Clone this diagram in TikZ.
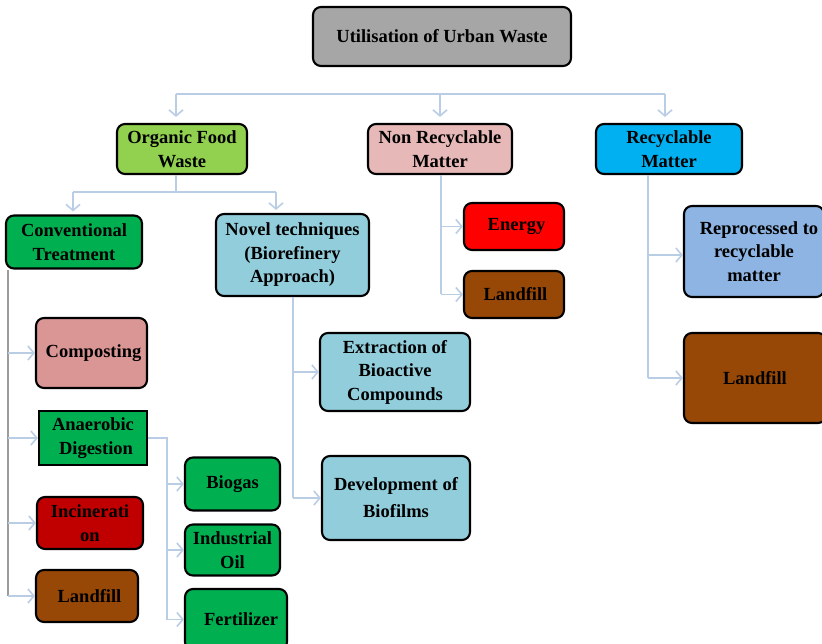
\documentclass[tikz,border=0pt]{standalone}
\usepackage{fontspec}
\setmainfont{Liberation Serif}
\usetikzlibrary{arrows.meta}

\definecolor{titlegray}{HTML}{A6A6A6}
\definecolor{leafgreen}{HTML}{92D050}
\definecolor{rosepink}{HTML}{E6B8B7}
\definecolor{skyblue}{HTML}{00B0F0}
\definecolor{darkgreen}{HTML}{00B050}
\definecolor{paleteal}{HTML}{92CDDC}
\definecolor{dustyrose}{HTML}{DA9694}
\definecolor{deepred}{HTML}{C00000}
\definecolor{brownfill}{HTML}{974806}
\definecolor{brightred}{HTML}{FF0000}
\definecolor{softblue}{HTML}{8DB4E2}
\definecolor{linkblue}{HTML}{B9CDE5}
\definecolor{linkgray}{HTML}{9C9C9C}

\begin{document}
\begin{tikzpicture}[x=1pt,y=-1pt,
  box/.style={draw=black, line width=2.1pt, rounded corners=8pt, align=center,
    inner sep=2pt, text=black, font=\fontsize{18.5}{23.5}\selectfont\bfseries},
  sz/.style 2 args={minimum width=#1pt, minimum height=#2pt},
  link/.style={draw=linkblue, line width=1.6pt},
  graylink/.style={draw=linkgray, line width=1.6pt},
  arr/.style={link, -{Straight Barb[length=6pt,width=14pt]}},
]
\useasboundingbox (0,0) rectangle (822,644);

% top level
\node[box, fill=titlegray, sz={258}{59}] (title) at (442,36.5) {Utilisation of Urban Waste};
\node[box, fill=leafgreen, sz={130}{50}] (org) at (182,149) {Organic Food\\Waste};
\node[box, fill=rosepink, sz={144}{50}] (nonrec) at (440,149) {Non Recyclable\\Matter};
\node[box, fill=skyblue, sz={146}{50}] (rec) at (669,149) {Recyclable\\Matter};

% organic branch
\node[box, fill=darkgreen, sz={136}{53}] (conv) at (74,242) {Conventional\\Treatment};
\node[box, fill=paleteal, sz={153}{82}] (novel) at (292.5,255) {Novel techniques\\(Biorefinery\\Approach)};

\node[box, fill=dustyrose, sz={111}{70}] (compost) at (91.5,353) {\hspace*{4pt}Composting};
\node[box, fill=darkgreen, sz={108}{54}, rounded corners=0pt] (anaer) at (93,438) {Anaerobic\\\hspace*{6pt}Digestion};
\node[box, fill=deepred, sz={106}{52}] (incin) at (90,523) {Incinerati\\on};
\node[box, fill=brownfill, sz={102}{52}] (landL) at (87,596) {\hspace*{5pt}Landfill};

\node[box, fill=darkgreen, sz={95}{53}] (biogas) at (232.5,484) {Biogas};
\node[box, fill=darkgreen, sz={95}{51}] (oil) at (232.5,550) {Industrial\\Oil};
\node[box, fill=darkgreen, sz={102}{61}] (fert) at (236,619.5) {\hspace*{10pt}Fertilizer};

\node[box, fill=paleteal, sz={150}{78}] (extr) at (395,372) {Extraction of\\Bioactive\\Compounds};
\node[box, fill=paleteal, sz={148}{84},
  font=\fontsize{18.5}{27}\selectfont\bfseries] (biofilm) at (396,498) {Development of\\Biofilms};

% non recyclable branch
\node[box, fill=brightred, sz={100}{47}] (energy) at (514,226.5) {\hspace*{5pt}Energy};
\node[box, fill=brownfill, sz={100}{47}] (landM) at (514,294.5) {\hspace*{3pt}Landfill};

% recyclable branch
\node[box, fill=softblue, sz={140}{91}] (repro) at (754,251.5) {\hspace*{10pt}Reprocessed to\\recyclable\\matter};
\node[box, fill=brownfill, sz={142}{90}] (landR) at (755,378) {Landfill};

% distribution bar under the title
\coordinate (busL) at (176,94);
\coordinate (busR) at (665,94);
\draw[link] (busL) -- (busR);
\draw[arr, shorten >=6pt] (busL) -- (busL |- org.north);
\draw[arr, shorten >=6pt] (nonrec.north |- busL) -- (nonrec.north);
\draw[arr, shorten >=6pt] (busR) -- (busR |- rec.north);

% organic food waste split
\coordinate (orgJ) at (176,192);
\coordinate (orgL) at (73,192);
\coordinate (orgR) at (276,192);
\draw[link] (orgJ |- org.south) -- (orgJ);
\draw[link] (orgL) -- (orgR);
\draw[arr, shorten >=3pt] (orgL) -- (orgL |- conv.north);
\draw[arr, shorten >=3pt] (orgR) -- (orgR |- novel.north);

% conventional treatment spine
\coordinate (convX) at (8,0);
\draw[graylink] (convX |- conv.south) -- (convX |- landL.west);
\draw[arr] (convX |- compost.west) -- (compost.west);
\draw[arr] (convX |- anaer.west) -- (anaer.west);
\draw[arr] (convX |- incin.west) -- (incin.west);
\draw[arr] (convX |- landL.west) -- (landL.west);

% anaerobic digestion products
\coordinate (anX) at (167,0);
\draw[link] (anaer.east) -| (anX |- fert.west);
\draw[arr] (anX |- biogas.west) -- (biogas.west);
\draw[arr] (anX |- oil.west) -- (oil.west);
\draw[arr] (anX |- fert.west) -- (fert.west);

% biorefinery approach
\coordinate (novX) at (293,0);
\draw[link] (novX |- novel.south) -- (novX |- biofilm.west);
\draw[arr] (novX |- extr.west) -- (extr.west);
\draw[arr] (novX |- biofilm.west) -- (biofilm.west);

% non recyclable matter
\coordinate (nonX) at (441,0);
\draw[link] (nonX |- nonrec.south) -- (nonX |- landM.west);
\draw[arr] (nonX |- energy.west) -- (energy.west);
\draw[arr] (nonX |- landM.west) -- (landM.west);

% recyclable matter
\coordinate (recX) at (648,0);
\coordinate (reproIn) at (0,255);
\draw[link] (recX |- rec.south) -- (recX |- landR.west);
\draw[arr] (recX |- reproIn) -- (repro.west |- reproIn);
\draw[arr] (recX |- landR.west) -- (landR.west);
\end{tikzpicture}
\end{document}
